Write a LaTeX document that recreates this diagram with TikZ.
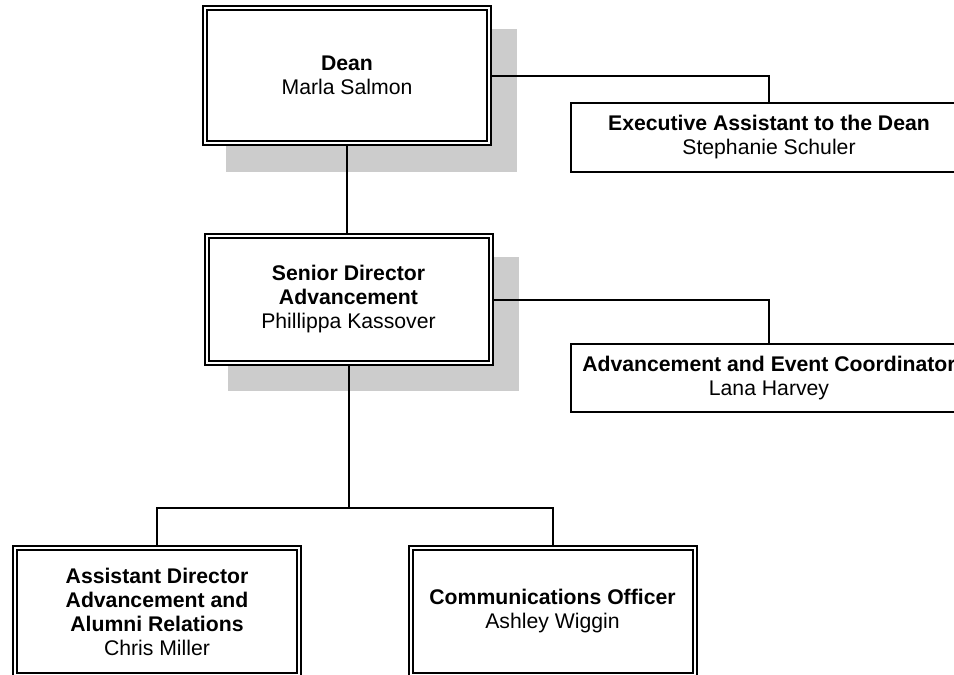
\documentclass[tikz,border=0pt]{standalone}
\usepackage{fontspec}
\setmainfont{Liberation Sans}
\usetikzlibrary{positioning,backgrounds}
\definecolor{shadowgray}{RGB}{204,204,204}

\begin{document}
\begin{tikzpicture}[x=1pt,y=-1pt,
  every node/.style={font=\fontsize{21.2}{24}\selectfont},
  headbox/.style={draw,double,line width=2pt,double distance=2pt,fill=white,
                  minimum width=284pt,minimum height=127pt,align=center,inner sep=0pt},
  staffbox/.style={draw,line width=1.8pt,fill=white,
                   minimum width=396pt,minimum height=69pt,align=center,inner sep=0pt},
  link/.style={line width=2pt}
]
  \useasboundingbox (0,0) rectangle (954,675);

  % boxes
  \node[headbox,minimum height=135pt] (dean) at (347,75.5)
       {\textbf{Dean}\\Marla Salmon};
  \node[staffbox] (exec) at (769,137.5)
       {\textbf{Executive Assistant to the Dean}\\Stephanie Schuler};
  \node[headbox] (senior) at (348.5,299.5)
       {\textbf{Senior Director}\\\textbf{Advancement}\\Phillippa Kassover};
  \node[staffbox,minimum height=68pt] (event) at (769,378)
       {\textbf{Advancement and Event Coordinator}\\Lana Harvey};
  \node[headbox] (alumni) at (157,611.5)
       {\textbf{Assistant Director}\\\textbf{Advancement and}\\\textbf{Alumni Relations}\\Chris Miller};
  \node[headbox] (comms) at (552.5,611.5)
       {\textbf{Communications Officer}\\Ashley Wiggin};

  \begin{scope}[on background layer]
    % shadows
    \fill[shadowgray] ([shift={(22,22)}]dean.north west) rectangle ([shift={(27,28)}]dean.south east);
    \fill[shadowgray] ([shift={(22,22)}]senior.north west) rectangle ([shift={(27,27)}]senior.south east);

    % lines
    \draw[link] (dean.east) -| (exec.north);
    \draw[link] (dean.south) -- (dean.south |- senior.north);
    \draw[link] (senior.east) -| (event.north);
    \draw[link] (senior.south) -- ++(0,144) coordinate (split);
    \draw[link] (alumni.north) |- (split) -| (comms.north);
  \end{scope}
\end{tikzpicture}
\end{document}
